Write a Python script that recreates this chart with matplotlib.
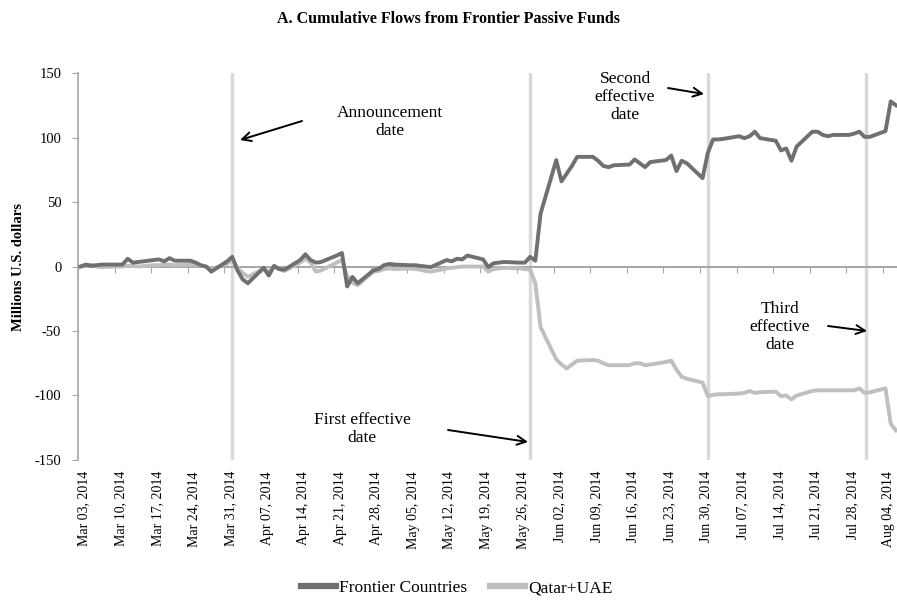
"""A. Cumulative Flows from Frontier Passive Funds (Frontier vs Qatar+UAE)."""
import matplotlib
matplotlib.use("Agg")
import matplotlib.pyplot as plt
from matplotlib.lines import Line2D
import pandas as pd

DARK = "#707070"
LIGHT = "#BFBFBF"
VLINE = "#D9D9D9"
AXIS = "#A6A6A6"

plt.rcParams.update({
    "font.family": ["Liberation Serif", "DejaVu Serif"],
    "font.size": 10,
    "axes.unicode_minus": False,
})

# trading days, Mar 03 .. Aug 06 2014
dates = pd.bdate_range("2014-03-03", "2014-08-06")

# millions USD (one row per week)
frontier = [
    0, 1.5, 0.5, 1, 1.5,
    1.5, 1.5, 6, 3, 3.5,
    5, 5.5, 4, 6.5, 4.5,
    4.5, 3, 1, 0, -4,
    4, 7.5, -3, -10, -13,
    -1, -7, 0.5, -2, -2.5,
    5, 9.5, 5, 3, 3.5,
    8.5, 10.5, -15.5, -8, -13,
    -3, -2, 1, 2, 1.5,
    1, 1, 0.5, 0, -0.5,
    5, 4, 6, 5.5, 8.5,
    5.5, -0.5, 2.5, 3, 3.5,
    3, 3, 7.5, 4.5, 41,
    82.5, 66, 72, 78, 85,
    85, 82, 78, 77, 78.5,
    79, 83, 80, 77, 81,
    82.5, 86, 74, 82, 80,
    68.5, 88, 98.5, 98.5, 99,
    101, 99.5, 101, 104.5, 99.5,
    97.5, 90, 91.5, 82, 93,
    104.5, 104.5, 102, 101, 102,
    102, 103, 104.5, 100.5, 100.5,
    105, 128, 125,
]
qatar_uae = [
    0, 0.5, 1.5, 0, -0.5,
    0, 0, 0.5, 0.5, 0,
    1, 1, 1.5, 1.5, 1,
    1.5, 1.5, 0.5, 0, -2,
    2, 5.5, -1, -5, -8,
    -2, -4, 0, -2, -3.5,
    3, 6, 3, -4, -3,
    3, 5, -7.5, -12.5, -14.5,
    -4, -3.5, -2, -1.5, -2,
    -1.5, -2, -2.5, -3.5, -4,
    -1.5, -1, -0.5, 0, 0,
    0, -4, -2, -1.5, -1,
    -1.5, -2, -2.5, -13, -47,
    -72, -76, -79, -76, -73,
    -72.5, -73, -75, -76.5, -76.5,
    -76.5, -75, -75, -76.5, -76,
    -74, -73, -80, -85.5, -87,
    -90, -100.5, -99.5, -99, -99,
    -98.5, -98, -96.5, -98, -97.5,
    -97, -100.5, -100, -103, -100,
    -96.5, -96, -96, -96, -96,
    -96, -96, -94.5, -98, -97.5,
    -94.5, -122, -127,
]

event_dates = pd.to_datetime(["2014-04-01 12:00", "2014-05-28 12:00",
                              "2014-07-01 12:00", "2014-07-31 18:00"])
week_ticks = pd.date_range("2014-03-03", "2014-08-04", freq="7D")
week_labels = list(week_ticks.strftime("%b %d, %Y"))

fig = plt.figure(figsize=(8.97, 6.02), dpi=100)
ax = fig.add_axes([0.087, 0.2359, 0.913, 0.6428])

# points sit in the middle of each day, like an Excel date axis
xs = dates + pd.Timedelta(hours=12)

for d in event_dates:
    ax.axvline(d, color=VLINE, lw=2.5, zorder=1)
ax.axhline(0, color=AXIS, lw=1.2, zorder=2)

ax.plot(xs, qatar_uae, color=LIGHT, lw=2.8, zorder=3, solid_joinstyle="round")
ax.plot(xs, frontier, color=DARK, lw=2.8, zorder=4, solid_joinstyle="round")

ax.set_xlim(pd.Timestamp("2014-03-03"),
            pd.Timestamp("2014-03-03") + pd.Timedelta(days=156.7))
ax.set_ylim(-150, 150)
ax.set_yticks(range(-150, 151, 50))
ax.set_ylabel("Millions U.S. dollars", fontweight="bold", fontsize=10.5,
              labelpad=7)

for s in ("top", "right"):
    ax.spines[s].set_visible(False)
ax.spines["left"].set_color(AXIS)
ax.spines["left"].set_linewidth(1.2)
ax.tick_params(axis="y", direction="out", length=4, color=AXIS,
               labelsize=10.5, pad=8)

# x axis crosses at zero, labels at the bottom
ax.spines["bottom"].set_position(("data", 0))
ax.spines["bottom"].set_color(AXIS)
ax.spines["bottom"].set_linewidth(1.2)
ax.set_xticks(week_ticks)
ax.tick_params(axis="x", direction="out", length=4, color=AXIS,
               labelbottom=False)
sec = ax.secondary_xaxis("bottom")
# labels sit a little right of the tick marks, as in the source
sec.set_xticks(week_ticks + pd.Timedelta(hours=28), labels=week_labels)
sec.tick_params(length=0, labelsize=10, pad=8)
sec.spines["bottom"].set_visible(False)
for lab in sec.get_xticklabels():
    lab.set_rotation(90)


def px(x, y):
    # image pixel -> axes fraction
    return ((x - 78) / 819.0, (460 - y) / 387.0)


arrow = dict(arrowstyle="->", color="black", lw=1.4,
             shrinkA=0, shrinkB=0, mutation_scale=16)
notes = [
    ("Announcement\ndate", (390, 122), (302, 121), (240, 140)),
    ("Second\neffective\ndate", (625, 97), (668, 88), (704, 94)),
    ("Third\neffective\ndate", (780, 327), (828, 326), (867, 331)),
    ("First effective\ndate", (362, 429), (448, 430), (528, 442)),
]
for text, tpos, start, tip in notes:
    ax.text(*px(*tpos), text, transform=ax.transAxes, ha="center",
            va="center", fontsize=12.5, linespacing=1.15)
    ax.annotate("", xy=px(*tip), xytext=px(*start), xycoords="axes fraction",
                textcoords="axes fraction", arrowprops=arrow)

fig.suptitle("A. Cumulative Flows from Frontier Passive Funds",
             fontweight="bold", fontsize=11.5, y=0.982)

handles = [Line2D([], [], color=DARK, lw=4.5),
           Line2D([], [], color=LIGHT, lw=4.5)]
fig.legend(handles, ["Frontier Countries", "Qatar+UAE"], loc="center",
           bbox_to_anchor=(0.5095, 0.023), ncol=2, frameon=False,
           fontsize=12.5, handlelength=2.0, handletextpad=0.2,
           columnspacing=1.3)

fig.savefig("out.png", dpi=100, facecolor="white")
